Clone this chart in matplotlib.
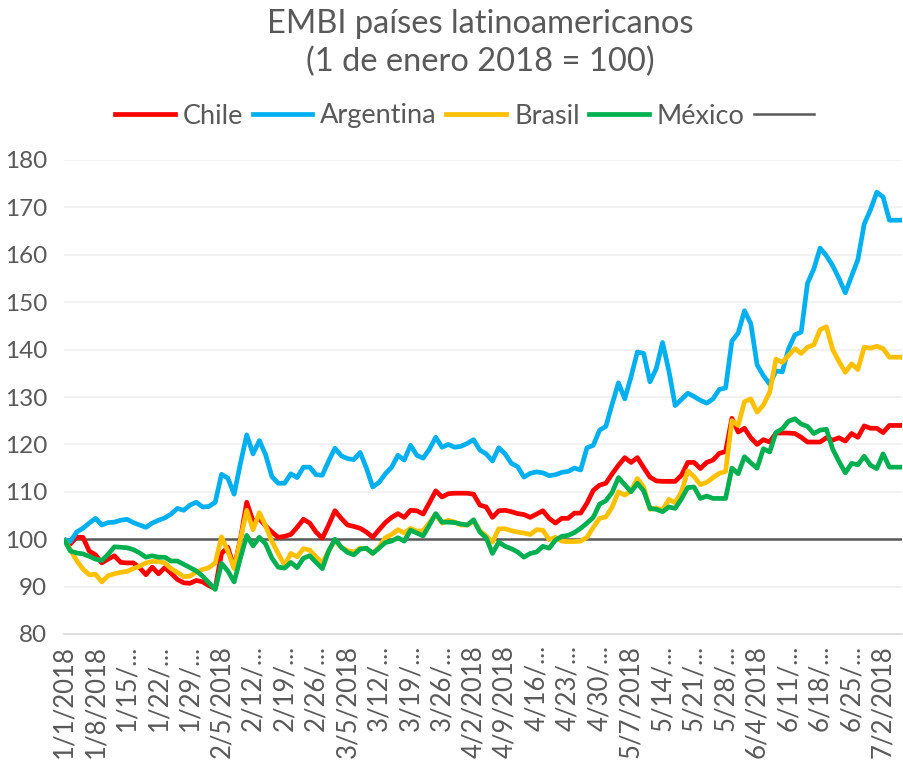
import matplotlib
matplotlib.use("Agg")
import matplotlib.pyplot as plt
from matplotlib.lines import Line2D
import numpy as np
import pandas as pd

# Fechas hábiles del 1/1/2018 al 5/7/2018
fechas = pd.bdate_range("2018-01-01", "2018-07-05")

chile = [
    100, 99, 100.4, 100.4, 97.5, 96.7, 95, 95.8, 96.5, 95.1,
    95, 95, 94, 92.5, 94.1, 92.7, 94, 92.8, 91.5, 90.8,
    90.7, 91.3, 91, 90.2, 89.6, 97, 98.3, 94, 100, 107.8,
    103.8, 104.3, 102.8, 101.5, 100.4, 100.6, 101, 102.5, 104.2, 103.4,
    101.5, 100.2, 103, 106, 104.4, 103, 102.7, 102.3, 101.5, 100.4,
    102, 103.5, 104.6, 105.4, 104.6, 106.1, 106, 105.3, 107.7, 110.2,
    108.9, 109.6, 109.7, 109.7, 109.7, 109.5, 107.2, 106.8, 104.6, 106,
    106.1, 105.8, 105.4, 105.2, 104.6, 105.3, 106, 104.4, 103.4, 104.4,
    104.4, 105.5, 105.5, 107.6, 110.3, 111.4, 111.8, 113.8, 115.6, 117.2,
    116.2, 117.2, 115.1, 113.1, 112.3, 112.2, 112.2, 112.2, 113.5, 116.2,
    116.2, 114.9, 116.2, 116.7, 118.1, 118.5, 125.5, 122.6, 123.4, 121.4,
    120, 121, 120.5, 122.4, 122.4, 122.4, 122.3, 121.5, 120.5, 120.5,
    120.5, 121.4, 120.9, 121.4, 120.7, 122.3, 121.5, 123.9, 123.4, 123.4,
    122.5, 124, 124, 124,
]

argentina = [
    100, 99.5, 101.5, 102.3, 103.4, 104.4, 103, 103.5, 103.6, 104,
    104.2, 103.5, 103, 102.5, 103.4, 104, 104.5, 105.3, 106.5, 106.1,
    107.2, 107.8, 106.8, 106.9, 107.8, 113.7, 112.9, 109.5, 116, 122,
    118, 120.8, 117.8, 113.2, 111.8, 111.8, 113.8, 113, 115.2, 115.2,
    113.6, 113.5, 116.5, 119.2, 117.6, 117, 116.8, 118.3, 115, 111,
    112, 113.8, 115.2, 117.7, 116.7, 119.8, 117.7, 117.1, 119, 121.5,
    119.4, 120, 119.4, 119.6, 120.2, 121, 118.8, 118, 116.5, 119.3,
    118, 116, 115.3, 113.1, 113.9, 114.2, 114, 113.4, 113.6, 114.1,
    114.3, 115, 114.6, 119.3, 119.8, 123, 123.8, 128.5, 133, 129.6,
    134.3, 139.5, 139.2, 133.2, 136, 141.5, 135.5, 128.2, 129.5, 130.8,
    130.1, 129.3, 128.7, 129.6, 131.6, 131.9, 141.8, 143.5, 148.2, 145.5,
    136.8, 134.5, 132.7, 135.5, 135.3, 140.2, 143.1, 143.7, 154, 157,
    161.4, 159.8, 157.7, 155, 152, 155.5, 159, 166.5, 169.5, 173.2,
    172.2, 167.3, 167.3, 167.3,
]

brasil = [
    100, 97.8, 95.5, 93.7, 92.5, 92.6, 91, 92.3, 92.7, 93,
    93.2, 93.8, 94.3, 95, 95.3, 95.3, 95, 93.8, 93, 92.1,
    92.2, 93.1, 93.6, 94, 95, 100.5, 97.5, 93.8, 100, 106.1,
    102, 105.6, 102.8, 99.5, 97, 94.5, 97, 96.3, 98, 97.7,
    96.3, 95, 97.5, 99.8, 98.3, 97.6, 97.3, 98.1, 98, 97,
    98.3, 100.3, 101, 102, 101.3, 102.3, 101.7, 101.8, 103.5, 105.3,
    103.4, 104, 103.6, 103, 103, 103.8, 101.8, 100.7, 99.4, 102.2,
    102.2, 101.8, 101.5, 101.3, 101, 102, 101.9, 99.9, 100.4, 99.6,
    99.5, 99.5, 99.6, 100.4, 102.5, 104.4, 104.7, 106.8, 110, 109.3,
    110.2, 112.8, 111, 106.3, 106.6, 106.2, 108.4, 107.7, 110, 114.4,
    113.2, 111.5, 112, 113, 113.9, 114.3, 125, 124, 129, 129.6,
    126.8, 128.3, 131, 138, 137.3, 138.8, 140.2, 139.2, 140.5, 141,
    144.2, 144.8, 140, 137.5, 135.2, 137, 135.8, 140.5, 140.3, 140.7,
    140.2, 138.4, 138.4, 138.4,
]

mexico = [
    100, 97.5, 97.1, 96.9, 96.4, 95.8, 95.5, 96.8, 98.4, 98.3,
    98.2, 97.8, 97.1, 96.2, 96.5, 96.2, 96.2, 95.4, 95.4, 94.7,
    94, 93.3, 92.2, 90.8, 89.4, 94.9, 93.3, 91, 96, 100.8,
    98.6, 100.4, 99, 96, 94.1, 93.9, 95.1, 94, 96, 96.5,
    95.1, 93.8, 97.5, 100, 98.3, 97.2, 96.7, 97.9, 98.1, 97,
    98.1, 99.3, 99.6, 100.3, 99.6, 101.9, 101.3, 100.7, 103, 105.4,
    103.6, 103.6, 103.5, 103.2, 103, 104.1, 101.5, 100.3, 97, 99.4,
    98.5, 98, 97.3, 96.2, 97, 97.3, 98.5, 98.1, 99.8, 100.6,
    100.8, 101.4, 102.3, 103.4, 104.6, 107.4, 108.1, 109.9, 113, 111.5,
    110, 111.8, 110.2, 106.5, 106.3, 105.8, 106.8, 106.5, 108.5, 110.9,
    111, 108.6, 109.1, 108.6, 108.6, 108.6, 115, 113.8, 117.4, 116.1,
    115, 119.1, 118.4, 122.5, 123.3, 124.9, 125.4, 124.3, 123.8, 122.3,
    123, 123.2, 119, 116.4, 114, 116, 115.7, 117.5, 115.6, 114.9,
    118, 115.2, 115.2, 115.2,
]

base = [100] * len(fechas)

etiquetas_x = [
    "1/1/2018", "1/8/2018", "1/15/...", "1/22/...", "1/29/...", "2/5/2018",
    "2/12/...", "2/19/...", "2/26/...", "3/5/2018", "3/12/...", "3/19/...",
    "3/26/...", "4/2/2018", "4/9/2018", "4/16/...", "4/23/...", "4/30/...",
    "5/7/2018", "5/14/...", "5/21/...", "5/28/...", "6/4/2018", "6/11/...",
    "6/18/...", "6/25/...", "7/2/2018",
]

series = [
    ("Chile", chile, "#ff0000"),
    ("Argentina", argentina, "#00b0f0"),
    ("Brasil", brasil, "#ffc000"),
    ("México", mexico, "#00b050"),
]

GRIS = "#595959"
plt.rcParams["font.family"] = ["Lato", "DejaVu Sans"]

fig = plt.figure(figsize=(9.04, 7.64), dpi=100)
ax = fig.add_axes([64 / 904, 1 - 634 / 764, 838 / 904, 474 / 764])

x = np.arange(len(fechas))
ax.plot(x, base, color=GRIS, lw=1.8, zorder=2)
for nombre, valores, color in series:
    ax.plot(x, valores, color=color, lw=3.4, zorder=3,
            solid_joinstyle="round", solid_capstyle="butt")

ax.set_xlim(0, len(fechas) - 1)
ax.set_ylim(80, 180)
ax.set_yticks(np.arange(80, 181, 10))
ax.set_xticks(np.arange(0, len(fechas), 5))
ax.set_xticklabels(etiquetas_x, rotation=90)
ax.grid(axis="y", color="#f0f0f0", lw=1.2, zorder=0)
ax.set_axisbelow(True)
for lado in ["top", "right", "left"]:
    ax.spines[lado].set_visible(False)
ax.spines["bottom"].set_color("#d9d9d9")
ax.spines["bottom"].set_linewidth(1.2)
ax.tick_params(axis="both", length=0, labelcolor=GRIS)
ax.tick_params(axis="y", pad=12, labelsize=17.5)
ax.tick_params(axis="x", pad=8, labelsize=18.5)

fig.text(480 / 904, 1 - 24 / 764, "EMBI países latinoamericanos",
         ha="center", va="center", fontsize=23.5, color=GRIS)
fig.text(480 / 904, 1 - 62 / 764, "(1 de enero 2018 = 100)",
         ha="center", va="center", fontsize=23.5, color=GRIS)

handles = [Line2D([], [], color=c, lw=3.4) for _, _, c in series]
handles.append(Line2D([], [], color=GRIS, lw=1.8))
labels = [n for n, _, _ in series] + [""]
fig.legend(handles, labels, loc="center left",
           bbox_to_anchor=(115 / 904, 1 - 116 / 764), ncol=5, frameon=False,
           fontsize=19.5, labelcolor=GRIS, handlelength=2.2, handletextpad=0.3,
           columnspacing=0.35, borderpad=0, borderaxespad=0)

fig.savefig("out.png", dpi=100, facecolor="white")
